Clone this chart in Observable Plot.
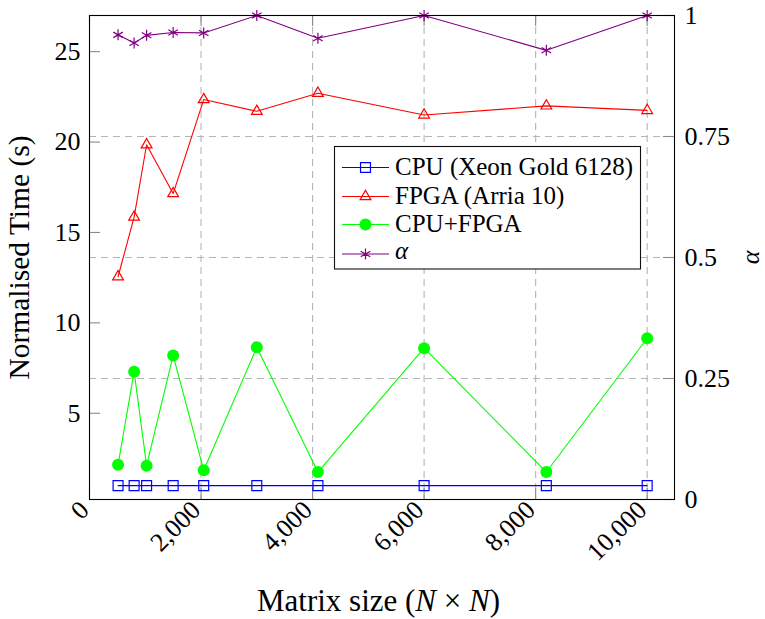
<!DOCTYPE html>
<html>
<head>
<meta charset="utf-8">
<script src="https://cdn.jsdelivr.net/npm/d3@7"></script>
<script src="https://cdn.jsdelivr.net/npm/@observablehq/plot@0.6"></script>
<style>
  html, body { margin: 0; padding: 0; background: #fff; }
  svg text { font-family: "Liberation Serif", serif; }
</style>
</head>
<body>
<div id="chart"></div>
<script>
// Matrix sizes (N) and the measured normalised run times
const matrixSizes = [512, 800, 1024, 1500, 2048, 3000, 4096, 6000, 8192, 10000];
const cpuTime     = [1, 1, 1, 1, 1, 1, 1, 1, 1, 1];
const fpgaTime    = [12.55, 15.85, 19.85, 17.15, 22.35, 21.7, 22.7, 21.5, 22.0, 21.75];
const hybridTime  = [2.15, 7.3, 2.1, 8.2, 1.85, 8.65, 1.75, 8.6, 1.75, 9.15];
// Work split factor alpha (right-hand axis)
const alphaShare  = [0.96, 0.943, 0.959, 0.965, 0.964, 1.0, 0.953, 1.0, 0.928, 1.0];

const seriesNames = ["CPU (Xeon Gold 6128)", "FPGA (Arria 10)", "CPU+FPGA", "α"];
const xTicks = [0, 2000, 4000, 6000, 8000, 10000];
const timeTicks = [5, 10, 15, 20, 25];
const alphaTicks = [0, 0.25, 0.5, 0.75, 1];
const alphaTickLabels = ["0", "0.25", "0.5", "0.75", "1"];
const yTitle = "Normalised Time (s)";
const alphaTitle = "α";

// Layout
const W = 765, H = 619;
const mL = 89, mR = 91, mT = 15, mB = 120;
const plotW = W - mL - mR, plotH = H - mT - mB;

// Left (time) axis domain; the alpha axis [0, 1] shares the same vertical span
const timeDomain = [0.23, 27];
const xDomain = [0, 10490];
const toTime = a => timeDomain[0] + a * (timeDomain[1] - timeDomain[0]);

const series = [
  {name: seriesNames[0], values: cpuTime,    color: "#0000ff", symbol: "square",   r: 5.6, fill: "none",    alpha: false},
  {name: seriesNames[1], values: fpgaTime,   color: "#ff0000", symbol: "triangle", r: 4.0, fill: "none",    alpha: false},
  {name: seriesNames[2], values: hybridTime, color: "#00ff00", symbol: "circle",   r: 6.0, fill: "#00ff00", alpha: false},
  {name: seriesNames[3], values: alphaShare, color: "#800080", symbol: "asterisk", r: 5.2, fill: "none",    alpha: true}
];

const rowsOf = s => matrixSizes.map((n, i) => ({n, v: s.alpha ? toTime(s.values[i]) : s.values[i]}));

const gridStyle = {stroke: "#b5b5b5", strokeWidth: 1.1, strokeDasharray: "7,5"};
const tickStyle = {stroke: "#8a8a8a", strokeWidth: 1.1};
const fmt = d3.format(",");

const marks = [
  // dashed grid
  Plot.ruleX(xTicks.filter(d => d > 0), {x: d => d, ...gridStyle}),
  Plot.ruleY(alphaTicks.filter(d => d > 0 && d < 1), {y: d => toTime(d), ...gridStyle}),
  // inward tick marks
  Plot.tickY(timeTicks, {y: d => d, insetRight: plotW - 11, ...tickStyle}),
  Plot.tickY(alphaTicks, {y: d => toTime(d), insetLeft: plotW - 11, ...tickStyle}),
  Plot.tickX(xTicks, {x: d => d, insetTop: plotH - 11, ...tickStyle}),
  Plot.tickX(xTicks, {x: d => d, insetBottom: plotH - 11, ...tickStyle}),
];

for (const s of series) {
  const rows = rowsOf(s);
  marks.push(Plot.line(rows, {x: "n", y: "v", stroke: s.color, strokeWidth: 1.1}));
  marks.push(Plot.dot(rows, {
    x: "n", y: "v", symbol: () => s.symbol, r: s.r,
    stroke: s.fill === "none" ? s.color : "none",
    fill: s.fill, strokeWidth: 1.2
  }));
}

marks.push(
  Plot.frame({stroke: "#000", strokeWidth: 1.1}),
  // left tick labels
  Plot.text(timeTicks, {y: d => d, text: d => String(d), frameAnchor: "left", dx: -9, textAnchor: "end", fontSize: 26}),
  // right tick labels
  Plot.text(alphaTicks, {y: d => toTime(d), text: (d, i) => alphaTickLabels[i], frameAnchor: "right", dx: 10, textAnchor: "start", fontSize: 26}),
  // rotated x tick labels
  Plot.text(xTicks, {x: d => d, text: d => fmt(d), frameAnchor: "bottom", rotate: -45, textAnchor: "end", dx: 1, dy: 12, fontSize: 26}),
  // axis titles
  Plot.text([yTitle], {text: d => d, frameAnchor: "left", textAnchor: "middle", dx: -70, rotate: -90, fontSize: 29.5}),
  Plot.text([alphaTitle], {text: d => d, frameAnchor: "right", textAnchor: "middle", dx: 76, rotate: -90, fontSize: 26, fontStyle: "italic"})
);

const svg = Plot.plot({
  width: W, height: H,
  marginLeft: mL, marginRight: mR, marginTop: mT, marginBottom: mB,
  x: {domain: xDomain, axis: null},
  y: {domain: timeDomain, axis: null},
  style: {background: "#fff", fontFamily: "Liberation Serif, serif", overflow: "visible"},
  marks
});

// x-axis title with italic N
const root = d3.select(svg);
const xt = root.append("text")
  .attr("x", mL + plotW / 2 - 3)
  .attr("y", H - 8)
  .attr("text-anchor", "middle")
  .attr("font-size", 31)
  .attr("fill", "#000");
xt.append("tspan").text("Matrix size (");
xt.append("tspan").attr("font-style", "italic").text("N");
xt.append("tspan").text(" × ");
xt.append("tspan").attr("font-style", "italic").text("N");
xt.append("tspan").text(")");

// legend box
const lg = root.append("g");
const lx = 334.5, ly = 146.5, lw = 306, lh = 122.5;
lg.append("rect").attr("x", lx).attr("y", ly).attr("width", lw).attr("height", lh)
  .attr("fill", "#fff").attr("stroke", "#111").attr("stroke-width", 1.1);
const lineY = [167.5, 196.5, 224.5, 254];
const baseY = [175, 203.5, 231.5, 259];
const symbolTypes = {square: d3.symbolSquare, triangle: d3.symbolTriangle, circle: d3.symbolCircle, asterisk: d3.symbolAsterisk};
series.forEach((s, i) => {
  const g = lg.append("g");
  g.append("line").attr("x1", 342).attr("x2", 389).attr("y1", lineY[i]).attr("y2", lineY[i])
    .attr("stroke", s.color).attr("stroke-width", 1.1);
  g.append("path")
    .attr("transform", `translate(365.5,${lineY[i]})`)
    .attr("d", d3.symbol(symbolTypes[s.symbol], Math.PI * s.r * s.r)())
    .attr("fill", s.fill)
    .attr("stroke", s.fill === "none" ? s.color : "none")
    .attr("stroke-width", 1.2);
  g.append("text").attr("x", 395).attr("y", baseY[i]).attr("font-size", 25)
    .attr("text-anchor", "start")
    .attr("font-style", s.alpha ? "italic" : null)
    .attr("fill", "#000").text(s.name);
});

document.getElementById("chart").appendChild(svg);
</script>
</body>
</html>
